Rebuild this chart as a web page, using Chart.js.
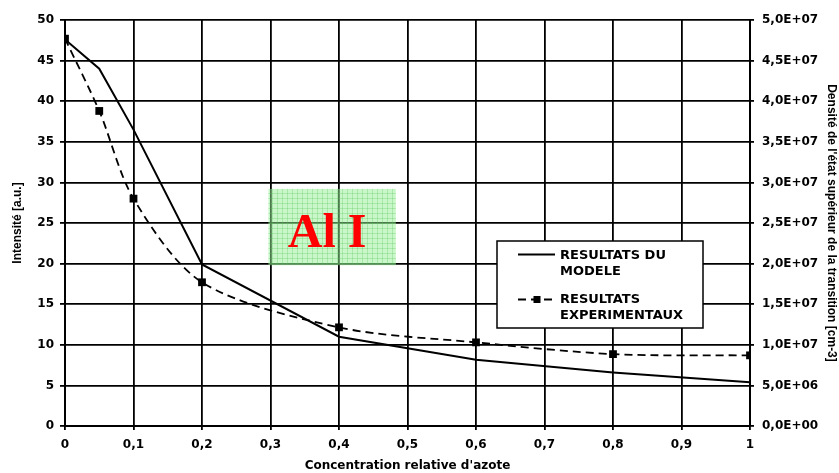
<!DOCTYPE html>
<html>
<head>
<meta charset="utf-8">
<script src="https://cdn.jsdelivr.net/npm/chart.js@4/dist/chart.umd.min.js"></script>
<style>
  html, body { margin: 0; padding: 0; background: #fff; }
  canvas { display: block; }
</style>
</head>
<body>
<canvas id="c" width="839" height="473"></canvas>
<script>
// ---- data ----
const modelX = [0, 0.05, 0.1, 0.2, 0.4, 0.6, 0.8, 1];
const modelY = [47.6, 44, 36.5, 19.9, 11.0, 8.15, 6.6, 5.4];
const expX = [0, 0.05, 0.1, 0.2, 0.4, 0.6, 0.8, 1];
const expY = [47.7, 38.8, 28.0, 17.7, 12.15, 10.3, 8.85, 8.7];
const xTickLabels = ['0', '0,1', '0,2', '0,3', '0,4', '0,5', '0,6', '0,7', '0,8', '0,9', '1'];
const leftTickLabels = ['0', '5', '10', '15', '20', '25', '30', '35', '40', '45', '50'];
const rightTickLabels = ['0,0E+00', '5,0E+06', '1,0E+07', '1,5E+07', '2,0E+07', '2,5E+07', '3,0E+07', '3,5E+07', '4,0E+07', '4,5E+07', '5,0E+07'];
const legendModel = ['RESULTATS DU', 'MODELE'];
const legendExp = ['RESULTATS', 'EXPERIMENTAUX'];
const xTitle = "Concentration relative d'azote";
const leftTitle = 'Intensité [a.u.]';
const rightTitle = "Densité de l'état supérieur de la transition [cm-3]";
const annotationText = 'Al I';

const tickFont = { family: 'DejaVu Sans', weight: 'bold', size: 12 };

const overlay = {
  id: 'overlay',
  afterDatasetsDraw(chart) {
    const ctx = chart.ctx;
    const xs = chart.scales.x, ys = chart.scales.y;
    // green "Al I" box
    const x0 = xs.getPixelForValue(0.297), x1 = xs.getPixelForValue(0.483);
    const y0 = ys.getPixelForValue(29.2), y1 = ys.getPixelForValue(19.8);
    ctx.save();
    ctx.fillStyle = 'rgba(150,240,150,0.5)';
    ctx.fillRect(x0, y0, x1 - x0, y1 - y0);
    ctx.strokeStyle = 'rgba(90,200,90,0.3)';
    ctx.lineWidth = 1;
    ctx.beginPath();
    for (let x = x0 + 4; x < x1; x += 5) { ctx.moveTo(Math.round(x) + 0.5, y0); ctx.lineTo(Math.round(x) + 0.5, y1); }
    for (let y = y0 + 4; y < y1; y += 5) { ctx.moveTo(x0, Math.round(y) + 0.5); ctx.lineTo(x1, Math.round(y) + 0.5); }
    ctx.stroke();
    ctx.fillStyle = '#ff0000';
    ctx.font = 'bold 48px "Liberation Serif", "DejaVu Serif", serif';
    ctx.textAlign = 'center';
    ctx.textBaseline = 'alphabetic';
    ctx.fillText(annotationText, (x0 + x1) / 2 - 5, ys.getPixelForValue(22.1));
    ctx.restore();
  },
  afterDraw(chart) {
    const ctx = chart.ctx;
    ctx.save();
    // legend box
    const bx = 497, by = 241, bw = 206, bh = 87;
    ctx.fillStyle = '#fff';
    ctx.fillRect(bx, by, bw, bh);
    ctx.strokeStyle = '#000';
    ctx.lineWidth = 1.5;
    ctx.strokeRect(bx, by, bw, bh);
    // model sample
    ctx.beginPath();
    ctx.moveTo(518, 254.5); ctx.lineTo(555, 254.5);
    ctx.lineWidth = 1.8;
    ctx.stroke();
    // exp sample
    ctx.setLineDash([8, 5]);
    ctx.beginPath();
    ctx.moveTo(518, 299.5); ctx.lineTo(555, 299.5);
    ctx.stroke();
    ctx.setLineDash([]);
    ctx.fillStyle = '#000';
    ctx.fillRect(533.5, 296, 7, 7);
    // text
    ctx.font = 'bold 13px "DejaVu Sans", sans-serif';
    ctx.textAlign = 'left';
    ctx.textBaseline = 'alphabetic';
    ctx.fillText(legendModel[0], 560, 259);
    ctx.fillText(legendModel[1], 560, 274.5);
    ctx.fillText(legendExp[0], 560, 303);
    ctx.fillText(legendExp[1], 560, 318.5);
    ctx.restore();
  }
};

new Chart(document.getElementById('c'), {
  type: 'line',
  data: {
    datasets: [
      {
        label: 'RESULTATS DU MODELE',
        data: modelX.map((x, i) => ({ x, y: modelY[i] })),
        borderColor: '#000',
        borderWidth: 2,
        pointRadius: 0,
        tension: 0,
        fill: false,
        yAxisID: 'y'
      },
      {
        label: 'RESULTATS EXPERIMENTAUX',
        data: expX.map((x, i) => ({ x, y: expY[i] })),
        borderColor: '#000',
        backgroundColor: '#000',
        borderWidth: 1.8,
        borderDash: [8, 5],
        pointStyle: 'rect',
        pointRadius: 5.5,
        pointBorderWidth: 0,
        tension: 0.3,
        fill: false,
        yAxisID: 'y'
      }
    ]
  },
  options: {
    responsive: false,
    animation: false,
    layout: { padding: { top: 20, left: 0, right: 0, bottom: 0 } },
    plugins: { legend: { display: false }, tooltip: { enabled: false } },
    scales: {
      x: {
        type: 'linear', min: 0, max: 1,
        afterFit(s) { s.height = 47; },
        ticks: { stepSize: 0.1, color: '#000', font: tickFont, padding: 8, maxRotation: 0,
          callback: (v, i) => xTickLabels[i] },
        grid: { color: '#000', lineWidth: 1.8, tickLength: 4 },
        border: { color: '#000', width: 2 },
        title: { display: true, text: xTitle, color: '#000', font: tickFont, padding: { top: 4, bottom: 0 } }
      },
      y: {
        position: 'left', min: 0, max: 50,
        afterFit(s) { s.width = 65; },
        ticks: { stepSize: 5, color: '#000', font: tickFont, padding: 6,
          callback: (v, i) => leftTickLabels[i] },
        grid: { color: '#000', lineWidth: 1.8, tickLength: 5 },
        border: { color: '#000', width: 2 },
        title: { display: true, text: leftTitle, color: '#000',
          font: { family: 'Liberation Sans', weight: 'bold', size: 12 }, padding: { top: 10, bottom: 0 } }
      },
      y2: {
        position: 'right', min: 0, max: 5e7,
        afterFit(s) { s.width = 89; },
        ticks: { stepSize: 5e6, color: '#000', font: tickFont, padding: 8,
          callback: (v, i) => rightTickLabels[i] },
        grid: { drawOnChartArea: false, color: '#000', lineWidth: 1.8, tickLength: 4 },
        border: { color: '#000', width: 2 },
        title: { display: true, text: rightTitle, color: '#000',
          font: { family: 'Liberation Sans', weight: 'bold', size: 12 }, padding: { top: 0, bottom: 2 } }
      }
    }
  },
  plugins: [overlay]
});
</script>
</body>
</html>
